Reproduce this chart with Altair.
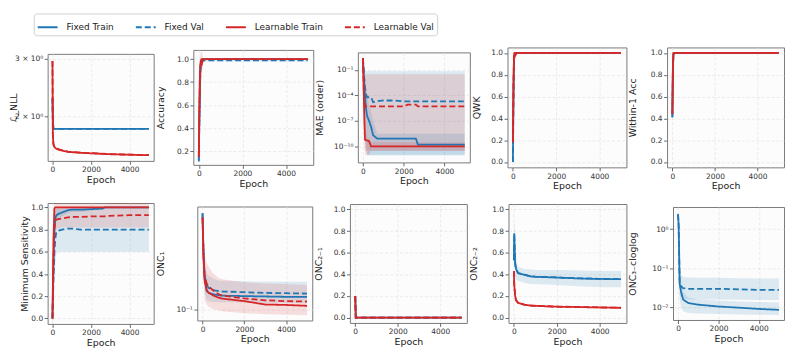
import altair as alt
import pandas as pd

SERIES = ["Fixed Train", "Fixed Val", "Learnable Train", "Learnable Val"]
COLORS = ["#1f77b4", "#1f77b4", "#d62728", "#d62728"]
DASHES = [[1, 0], [6, 3], [1, 0], [6, 3]]

# ---------------- Panel 1: NLL (log) ----------------
nll_epoch = [0, 20, 50, 100, 200, 400, 800, 1500, 2000, 3000, 4000, 5000]
nll_fixed_train = [2.27, 1.95, 1.83, 1.83, 1.83, 1.83, 1.83, 1.83, 1.83, 1.83, 1.83, 1.83]
nll_fixed_val = [2.27, 1.96, 1.83, 1.83, 1.83, 1.83, 1.83, 1.83, 1.83, 1.83, 1.83, 1.83]
nll_learn_train = [2.95, 1.75, 1.64, 1.61, 1.59, 1.575, 1.556, 1.545, 1.54, 1.53, 1.525, 1.52]
nll_learn_val = [2.95, 1.76, 1.645, 1.615, 1.595, 1.578, 1.558, 1.547, 1.542, 1.532, 1.526, 1.521]
nll_learn_lo = [2.9, 1.73, 1.63, 1.6, 1.58, 1.565, 1.546, 1.535, 1.53, 1.52, 1.515, 1.51]
nll_learn_hi = [3.0, 1.78, 1.66, 1.625, 1.605, 1.59, 1.568, 1.557, 1.552, 1.542, 1.536, 1.531]

# ---------------- Panel 2: Accuracy ----------------
acc_epoch = [0, 25, 50, 75, 100, 125, 150, 200, 300, 500, 1000, 2000, 3000, 4000, 5000]
acc_fixed_train = [0.12, 0.45, 0.75, 0.92, 0.97, 0.98, 0.99, 1.0, 1.0, 1.0, 1.0, 1.0, 1.0, 1.0, 1.0]
acc_fixed_val = [0.11, 0.42, 0.72, 0.89, 0.95, 0.97, 0.98, 0.99, 0.99, 0.99, 0.99, 0.99, 0.99, 0.99, 0.99]
acc_learn_train = [0.15, 0.55, 0.85, 0.96, 0.99, 1.0, 1.0, 1.0, 1.0, 1.0, 1.0, 1.0, 1.0, 1.0, 1.0]
acc_learn_val = [0.15, 0.52, 0.82, 0.94, 0.96, 0.93, 0.97, 0.99, 1.0, 1.0, 1.0, 1.0, 1.0, 1.0, 1.0]
acc_fval_lo = [0.08, 0.3, 0.6, 0.8, 0.9, 0.93, 0.96, 0.98, 0.98, 0.98, 0.98, 0.98, 0.98, 0.98, 0.98]
acc_fval_hi = [0.14, 0.55, 0.85, 0.98, 1.0, 1.0, 1.0, 1.0, 1.0, 1.0, 1.0, 1.0, 1.0, 1.0, 1.0]
acc_lval_lo = [0.13, 0.4, 0.7, 0.85, 0.85, 0.8, 0.88, 0.97, 0.995, 0.995, 0.995, 0.995, 0.995, 0.995, 0.995]
acc_lval_hi = [0.17, 0.65, 0.95, 1.03, 1.07, 1.06, 1.06, 1.01, 1.005, 1.005, 1.005, 1.005, 1.005, 1.005, 1.005]

# ---------------- Panel 3: MAE (order), log ----------------
mae_epoch = [0, 50, 100, 150, 200, 300, 400, 500, 700, 1000, 1500, 2000, 2200, 2600, 2700, 3000, 4000, 5000]
mae_fixed_train = [2.5, 1e-2, 1e-4, 3e-6, 4e-7, 1e-7, 2e-8, 2e-9, 8e-10, 8e-10, 8e-10, 8e-10, 8e-10, 8e-10, 1.6e-10, 1.6e-10, 1.6e-10, 1.6e-10]
mae_fixed_val = [2.5, 3e-2, 1e-3, 1.6e-4, 6e-5, 6e-5, 6e-5, 1.6e-5, 2e-5, 2.5e-5, 2.5e-5, 2e-5, 2e-5, 2e-5, 2e-5, 2e-5, 2e-5, 2e-5]
mae_learn_train = [2.5, 1e-5, 6e-10, 5e-10, 5e-10, 4e-10, 1e-10, 1e-10, 1e-10, 1e-10, 1e-10, 1e-10, 1e-10, 1e-10, 1e-10, 1e-10, 1e-10, 1e-10]
mae_learn_val = [2.5, 1e-4, 5e-6, 5e-6, 5e-6, 5e-6, 5e-6, 5e-6, 5e-6, 5e-6, 5e-6, 5e-6, 8e-6, 8e-6, 5e-6, 5e-6, 5e-6, 5e-6]
mae_ftrain_lo = [0.8, 1e-5, 1e-8, 1e-10, 1e-11, 1e-11, 1e-11, 1e-11, 1e-11, 1e-11, 1e-11, 1e-11, 1e-11, 1e-11, 1e-11, 1e-11, 1e-11, 1e-11]
mae_ftrain_hi = [5, 0.3, 2e-2, 1e-3, 1e-4, 1e-5, 1e-6, 1e-7, 3e-9, 3e-9, 3e-9, 3e-9, 3e-9, 3e-9, 3e-9, 3e-9, 3e-9, 3e-9]
mae_fval_lo = [0.8, 1e-5, 1e-8, 1e-10, 8e-12, 8e-12, 8e-12, 8e-12, 8e-12, 8e-12, 8e-12, 8e-12, 8e-12, 8e-12, 8e-12, 8e-12, 8e-12, 8e-12]
mae_fval_hi = [5, 1, 0.1, 0.07, 0.07, 0.07, 0.07, 0.07, 0.07, 0.07, 0.07, 0.07, 0.07, 0.07, 0.07, 0.07, 0.07, 0.07]
mae_ltrain_lo = [0.8, 1e-8, 1e-11, 1e-11, 1e-11, 1e-11, 3e-11, 3e-11, 3e-11, 3e-11, 3e-11, 3e-11, 3e-11, 3e-11, 3e-11, 3e-11, 3e-11, 3e-11]
mae_ltrain_hi = [5, 1e-3, 1e-8, 1e-8, 1e-9, 1e-9, 3e-10, 3e-10, 3e-10, 3e-10, 3e-10, 3e-10, 3e-10, 3e-10, 3e-10, 3e-10, 3e-10, 3e-10]
mae_lval_lo = [0.8, 1e-8, 3e-11, 3e-11, 3e-11, 3e-11, 3e-11, 3e-11, 3e-11, 3e-11, 3e-11, 3e-11, 3e-11, 3e-11, 3e-11, 3e-11, 3e-11, 3e-11]
mae_lval_hi = [5, 0.3, 0.03, 0.03, 0.03, 0.03, 0.03, 0.03, 0.03, 0.03, 0.03, 0.03, 0.03, 0.03, 0.03, 0.03, 0.03, 0.03]

# ---------------- Panel 4: QWK ----------------
qwk_epoch = [0, 25, 50, 75, 100, 150, 200, 500, 1000, 2000, 3000, 4000, 5000]
qwk_fixed_train = [0.0, 0.6, 0.95, 0.99, 1.0, 1.0, 1.0, 1.0, 1.0, 1.0, 1.0, 1.0, 1.0]
qwk_fixed_val = [0.0, 0.55, 0.93, 0.98, 0.99, 1.0, 1.0, 1.0, 1.0, 1.0, 1.0, 1.0, 1.0]
qwk_learn_train = [0.18, 0.7, 0.97, 1.0, 1.0, 1.0, 1.0, 1.0, 1.0, 1.0, 1.0, 1.0, 1.0]
qwk_learn_val = [0.18, 0.65, 0.95, 0.99, 0.97, 0.99, 1.0, 1.0, 1.0, 1.0, 1.0, 1.0, 1.0]
qwk_fval_lo = [-0.04, 0.4, 0.88, 0.96, 0.98, 0.99, 1.0, 1.0, 1.0, 1.0, 1.0, 1.0, 1.0]
qwk_fval_hi = [0.17, 0.7, 0.98, 1.0, 1.0, 1.0, 1.0, 1.0, 1.0, 1.0, 1.0, 1.0, 1.0]

# ---------------- Panel 5: Within-1 Acc ----------------
w1_epoch = [0, 25, 50, 75, 100, 200, 500, 1000, 2000, 3000, 4000, 5000]
w1_fixed_train = [0.41, 0.85, 0.99, 1.0, 1.0, 1.0, 1.0, 1.0, 1.0, 1.0, 1.0, 1.0]
w1_fixed_val = [0.41, 0.83, 0.98, 1.0, 1.0, 1.0, 1.0, 1.0, 1.0, 1.0, 1.0, 1.0]
w1_learn_train = [0.44, 0.9, 1.0, 1.0, 1.0, 1.0, 1.0, 1.0, 1.0, 1.0, 1.0, 1.0]
w1_learn_val = [0.44, 0.88, 0.99, 1.0, 1.0, 1.0, 1.0, 1.0, 1.0, 1.0, 1.0, 1.0]
w1_fval_lo = [0.32, 0.75, 0.97, 1.0, 1.0, 1.0, 1.0, 1.0, 1.0, 1.0, 1.0, 1.0]
w1_fval_hi = [0.5, 0.95, 1.0, 1.0, 1.0, 1.0, 1.0, 1.0, 1.0, 1.0, 1.0, 1.0]

# ---------------- Panel 6: Minimum Sensitivity ----------------
ms_epoch = [0, 50, 100, 150, 200, 300, 500, 800, 1000, 1500, 2000, 2600, 2700, 3000, 4000, 5000]
ms_fixed_train = [0.0, 0.45, 0.8, 0.9, 0.93, 0.94, 0.955, 0.975, 0.98, 0.98, 0.985, 0.99, 1.0, 1.0, 1.0, 1.0]
ms_fixed_val = [0.0, 0.35, 0.6, 0.72, 0.78, 0.79, 0.8, 0.81, 0.81, 0.8, 0.8, 0.8, 0.8, 0.8, 0.8, 0.8]
ms_learn_train = [0.0, 0.7, 0.99, 1.0, 1.0, 1.0, 1.0, 1.0, 1.0, 1.0, 1.0, 1.0, 1.0, 1.0, 1.0, 1.0]
ms_learn_val = [0.0, 0.5, 0.8, 0.88, 0.89, 0.895, 0.9, 0.91, 0.915, 0.915, 0.92, 0.92, 0.92, 0.925, 0.93, 0.93]
ms_ftrain_lo = [-0.05, 0.2, 0.6, 0.8, 0.88, 0.9, 0.92, 0.95, 0.96, 0.96, 0.97, 0.98, 1.0, 1.0, 1.0, 1.0]
ms_ftrain_hi = [0.05, 0.7, 0.95, 0.99, 0.99, 0.99, 0.99, 1.0, 1.0, 1.0, 1.0, 1.0, 1.0, 1.0, 1.0, 1.0]
ms_fval_lo = [-0.05, 0.0, 0.3, 0.5, 0.58, 0.6, 0.6, 0.6, 0.6, 0.6, 0.6, 0.6, 0.6, 0.6, 0.6, 0.6]
ms_fval_hi = [0.05, 0.8, 0.95, 0.98, 0.99, 1.0, 1.0, 1.0, 1.0, 1.0, 1.0, 1.0, 1.0, 1.0, 1.0, 1.0]
ms_lval_lo = [-0.05, 0.2, 0.6, 0.75, 0.8, 0.81, 0.82, 0.82, 0.82, 0.82, 0.82, 0.82, 0.82, 0.82, 0.82, 0.82]
ms_lval_hi = [0.05, 0.9, 1.06, 1.06, 1.05, 1.04, 1.03, 1.03, 1.03, 1.03, 1.03, 1.03, 1.03, 1.04, 1.04, 1.04]

# ---------------- Panel 7: ONC_1 (log) ----------------
onc1_epoch = [0, 50, 100, 200, 300, 500, 800, 1000, 2000, 3000, 4000, 5000]
onc1_fixed_train = [0.73, 0.3, 0.19, 0.145, 0.14, 0.136, 0.133, 0.132, 0.131, 0.13, 0.129, 0.129]
onc1_fixed_val = [0.73, 0.32, 0.2, 0.165, 0.155, 0.148, 0.145, 0.144, 0.142, 0.14, 0.139, 0.138]
onc1_learn_train = [0.67, 0.28, 0.18, 0.148, 0.14, 0.133, 0.126, 0.124, 0.118, 0.11, 0.109, 0.107]
onc1_learn_val = [0.67, 0.3, 0.2, 0.17, 0.16, 0.148, 0.135, 0.132, 0.125, 0.12, 0.118, 0.117]
onc1_fval_lo = [0.68, 0.22, 0.14, 0.12, 0.118, 0.116, 0.115, 0.115, 0.115, 0.114, 0.114, 0.113]
onc1_fval_hi = [0.78, 0.45, 0.26, 0.21, 0.2, 0.19, 0.18, 0.18, 0.178, 0.177, 0.176, 0.176]
onc1_lval_lo = [0.62, 0.2, 0.12, 0.11, 0.105, 0.1, 0.097, 0.095, 0.092, 0.09, 0.089, 0.088]
onc1_lval_hi = [0.72, 0.45, 0.3, 0.26, 0.24, 0.21, 0.19, 0.185, 0.175, 0.17, 0.168, 0.165]

# ---------------- Panel 8: ONC_{2-1} ----------------
onc21_epoch = [0, 25, 100, 500, 1000, 2000, 3000, 4000, 5000]
onc21_fixed_train = [0.2, 0.0, 0.0, 0.0, 0.0, 0.0, 0.0, 0.0, 0.0]
onc21_fixed_val = [0.2, 0.0, 0.0, 0.0, 0.0, 0.0, 0.0, 0.0, 0.0]
onc21_learn_train = [0.2, 0.0, 0.0, 0.0, 0.0, 0.0, 0.0, 0.0, 0.0]
onc21_learn_val = [0.2, 0.0, 0.0, 0.0, 0.0, 0.0, 0.0, 0.0, 0.0]
onc21_fval_lo = [0.1, 0.0, 0.0, 0.0, 0.0, 0.0, 0.0, 0.0, 0.0]
onc21_fval_hi = [0.31, 0.0, 0.0, 0.0, 0.0, 0.0, 0.0, 0.0, 0.0]

# ---------------- Panel 9: ONC_{2-2} ----------------
onc22_epoch = [0, 20, 60, 100, 200, 500, 800, 1000, 2000, 3000, 4000, 5000]
onc22_fixed_train = [0.53, 0.78, 0.5, 0.45, 0.41, 0.395, 0.38, 0.377, 0.37, 0.362, 0.357, 0.355]
onc22_fixed_val = [0.53, 0.77, 0.5, 0.45, 0.412, 0.396, 0.381, 0.378, 0.371, 0.363, 0.358, 0.356]
onc22_learn_train = [0.43, 0.3, 0.2, 0.16, 0.135, 0.118, 0.11, 0.108, 0.1, 0.097, 0.093, 0.09]
onc22_learn_val = [0.43, 0.3, 0.2, 0.161, 0.136, 0.119, 0.111, 0.109, 0.101, 0.098, 0.094, 0.091]
onc22_fval_lo = [0.35, 0.62, 0.38, 0.35, 0.34, 0.32, 0.31, 0.31, 0.3, 0.29, 0.28, 0.28]
onc22_fval_hi = [0.7, 0.93, 0.62, 0.55, 0.47, 0.45, 0.445, 0.44, 0.44, 0.435, 0.43, 0.43]
onc22_lval_lo = [0.42, 0.29, 0.19, 0.15, 0.128, 0.112, 0.104, 0.102, 0.095, 0.092, 0.088, 0.085]
onc22_lval_hi = [0.44, 0.31, 0.21, 0.17, 0.142, 0.125, 0.117, 0.115, 0.107, 0.104, 0.1, 0.097]

# ---------------- Panel 10: ONC_{3-cloglog} (log) ----------------
oncc_epoch = [0, 30, 80, 150, 250, 500, 1000, 2000, 3000, 4000, 5000]
oncc_fixed_train = [2.4, 1.2, 0.04, 0.025, 0.016, 0.013, 0.0118, 0.0106, 0.0099, 0.0092, 0.0087]
oncc_fixed_val = [2.4, 1.2, 0.045, 0.035, 0.031, 0.03, 0.03, 0.03, 0.029, 0.028, 0.028]
oncc_ftrain_lo = [2.0, 0.8, 0.015, 0.01, 0.008, 0.0072, 0.007, 0.0068, 0.0066, 0.0065, 0.0064]
oncc_ftrain_hi = [2.8, 1.6, 0.08, 0.045, 0.025, 0.018, 0.016, 0.015, 0.0142, 0.0138, 0.0134]
oncc_fval_lo = [2.0, 0.8, 0.02, 0.018, 0.017, 0.016, 0.016, 0.016, 0.0158, 0.0156, 0.0155]
oncc_fval_hi = [2.8, 1.6, 0.1, 0.07, 0.06, 0.058, 0.057, 0.057, 0.056, 0.055, 0.055]

X_SCALE = alt.Scale(domain=[-250, 5250], nice=False, zero=False)
COLOR_SCALE = alt.Scale(domain=SERIES, range=COLORS)
DASH_SCALE = alt.Scale(domain=SERIES, range=DASHES)


def panel(epoch, lines, bands, ytitle, ydomain, yvalues, ylog, w, h, ext,
          label_expr=None, fmt=None, legend=False):
    lrows = []
    for s, vals in lines.items():
        for e, v in zip(epoch, vals):
            lrows.append({"epoch": e, "value": v, "series": s})
    ldf = pd.DataFrame(lrows)

    yscale = alt.Scale(type="log" if ylog else "linear", domain=ydomain, nice=False, zero=False)
    akw = dict(title=ytitle, values=yvalues, minExtent=ext, maxExtent=ext)
    if label_expr:
        akw["labelExpr"] = label_expr
    if fmt:
        akw["format"] = fmt
    yaxis = alt.Axis(**akw)
    x = alt.X("epoch:Q", scale=X_SCALE,
              axis=alt.Axis(values=[0, 2000, 4000], title="Epoch", format="d"))

    layers = []
    for s, (lo, hi) in bands.items():
        bdf = pd.DataFrame({"epoch": epoch, "lo": lo, "hi": hi})
        layers.append(
            alt.Chart(bdf).mark_area(clip=True, fillOpacity=0.14, strokeWidth=0,
                                     color=COLORS[SERIES.index(s)]).encode(
                x=x,
                y=alt.Y("lo:Q", scale=yscale, axis=yaxis),
                y2="hi:Q",
            )
        )
    if legend:
        leg = alt.Legend(title=None, orient="none", legendX=-14, legendY=-34,
                         direction="horizontal")
    else:
        leg = None
    layers.append(
        alt.Chart(ldf).mark_line(clip=True, strokeWidth=1.8).encode(
            x=x,
            y=alt.Y("value:Q", scale=yscale, axis=yaxis),
            color=alt.Color("series:N", scale=COLOR_SCALE, legend=leg),
            strokeDash=alt.StrokeDash("series:N", scale=DASH_SCALE, legend=leg),
        )
    )
    return alt.layer(*layers).properties(width=w, height=h)


LIN01 = [0.0, 0.2, 0.4, 0.6, 0.8, 1.0]

p1 = panel(nll_epoch,
           {SERIES[0]: nll_fixed_train, SERIES[1]: nll_fixed_val,
            SERIES[2]: nll_learn_train, SERIES[3]: nll_learn_val},
           {SERIES[2]: (nll_learn_lo, nll_learn_hi)},
           "ℒ_NLL", [1.46, 3.1], [2, 3], True, 107, 108, 27,
           label_expr="datum.value < 2.5 ? '2 × 10⁰' : '3 × 10⁰'", legend=True)
p2 = panel(acc_epoch,
           {SERIES[0]: acc_fixed_train, SERIES[1]: acc_fixed_val,
            SERIES[2]: acc_learn_train, SERIES[3]: acc_learn_val},
           {SERIES[1]: (acc_fval_lo, acc_fval_hi), SERIES[3]: (acc_lval_lo, acc_lval_hi)},
           "Accuracy", [0.08, 1.08], [0.2, 0.4, 0.6, 0.8, 1.0], False, 121, 116, 26.5, fmt=".1f")
p3 = panel(mae_epoch,
           {SERIES[0]: mae_fixed_train, SERIES[1]: mae_fixed_val,
            SERIES[2]: mae_learn_train, SERIES[3]: mae_learn_val},
           {SERIES[0]: (mae_ftrain_lo, mae_ftrain_hi), SERIES[1]: (mae_fval_lo, mae_fval_hi),
            SERIES[2]: (mae_ltrain_lo, mae_ltrain_hi), SERIES[3]: (mae_lval_lo, mae_lval_hi)},
           "MAE (order)", [1.26e-12, 11.7], [1e-10, 1e-7, 1e-4, 1e-1], True, 113, 111, 31.5,
           label_expr="datum.value < 1e-8 ? '10⁻¹⁰' : datum.value < 1e-5 ? '10⁻⁷' : datum.value < 1e-2 ? '10⁻⁴' : '10⁻¹'")
p4 = panel(qwk_epoch,
           {SERIES[0]: qwk_fixed_train, SERIES[1]: qwk_fixed_val,
            SERIES[2]: qwk_learn_train, SERIES[3]: qwk_learn_val},
           {SERIES[1]: (qwk_fval_lo, qwk_fval_hi)},
           "QWK", [-0.05, 1.05], LIN01, False, 120, 121, 24.5, fmt=".1f")
p5 = panel(w1_epoch,
           {SERIES[0]: w1_fixed_train, SERIES[1]: w1_fixed_val,
            SERIES[2]: w1_learn_train, SERIES[3]: w1_learn_val},
           {SERIES[1]: (w1_fval_lo, w1_fval_hi)},
           "Within-1 Acc", [-0.05, 1.05], LIN01, False, 118, 121, 27.5, fmt=".1f")

p6 = panel(ms_epoch,
           {SERIES[0]: ms_fixed_train, SERIES[1]: ms_fixed_val,
            SERIES[2]: ms_learn_train, SERIES[3]: ms_learn_val},
           {SERIES[0]: (ms_ftrain_lo, ms_ftrain_hi), SERIES[1]: (ms_fval_lo, ms_fval_hi),
            SERIES[3]: (ms_lval_lo, ms_lval_hi)},
           "Minimum Sensitivity", [-0.05, 1.04], LIN01, False, 107, 122, 16.5, fmt=".1f")
p7 = panel(onc1_epoch,
           {SERIES[0]: onc1_fixed_train, SERIES[1]: onc1_fixed_val,
            SERIES[2]: onc1_learn_train, SERIES[3]: onc1_learn_val},
           {SERIES[1]: (onc1_fval_lo, onc1_fval_hi), SERIES[3]: (onc1_lval_lo, onc1_lval_hi)},
           "ONC₁", [0.079, 0.84], [0.1], True, 116, 115, 30.5,
           label_expr="'10⁻¹'")
p8 = panel(onc21_epoch,
           {SERIES[0]: onc21_fixed_train, SERIES[1]: onc21_fixed_val,
            SERIES[2]: onc21_learn_train, SERIES[3]: onc21_learn_val},
           {SERIES[1]: (onc21_fval_lo, onc21_fval_hi)},
           "ONC₂₋₁", [-0.05, 1.05], LIN01, False, 118, 120, 24.5, fmt=".1f")
p9 = panel(onc22_epoch,
           {SERIES[0]: onc22_fixed_train, SERIES[1]: onc22_fixed_val,
            SERIES[2]: onc22_learn_train, SERIES[3]: onc22_learn_val},
           {SERIES[1]: (onc22_fval_lo, onc22_fval_hi), SERIES[3]: (onc22_lval_lo, onc22_lval_hi)},
           "ONC₂₋₂", [-0.05, 1.05], LIN01, False, 119, 120, 28.5, fmt=".1f")
p10 = panel(oncc_epoch,
            {SERIES[0]: oncc_fixed_train, SERIES[1]: oncc_fixed_val},
            {SERIES[0]: (oncc_ftrain_lo, oncc_ftrain_hi), SERIES[1]: (oncc_fval_lo, oncc_fval_hi)},
            "ONC₃₋cloglog", [0.0048, 3.67], [0.01, 0.1, 1.0], True, 112, 114, 33.5,
            label_expr="datum.value < 0.05 ? '10⁻²' : datum.value < 0.5 ? '10⁻¹' : '10⁰'")

row1 = alt.hconcat(p1, p2, p3, p4, p5, spacing=0, center=True)
row2 = alt.hconcat(p6, p7, p8, p9, p10, spacing=0, center=True)

chart = (
    alt.concat(row1, row2, columns=1, spacing=11, align="none")
    .resolve_scale(color="shared", strokeDash="shared")
    .properties(padding={"top": 3, "left": 0, "right": 0, "bottom": 0})
    .configure_view(fill="#fcfcfc", stroke="#7a7a7a", strokeWidth=1)
    .configure_axis(
        grid=True, gridColor="#e3e3e3", gridDash=[3, 2], gridWidth=0.7,
        domain=False, ticks=True, tickSize=3.5, tickColor="#444", tickWidth=0.8,
        labelFont="DejaVu Sans", labelFontSize=7.5, labelColor="#333", labelPadding=1.5,
        titleFont="DejaVu Sans", titleFontSize=9.5, titleFontWeight="normal", titleColor="#222",
    )
    .configure_axisX(titlePadding=1)
    .configure_axisY(titlePadding=2)
    .configure_legend(
        labelFont="DejaVu Sans", labelFontSize=9, labelColor="#222",
        symbolType="stroke", symbolStrokeWidth=2, symbolSize=400,
        columnPadding=18, padding=3, strokeColor="#d0d0d0", fillColor="#ffffff",
        cornerRadius=3, labelOffset=8,
    )
)

chart.save("out.html", embed_options={"renderer": "svg", "actions": False})
